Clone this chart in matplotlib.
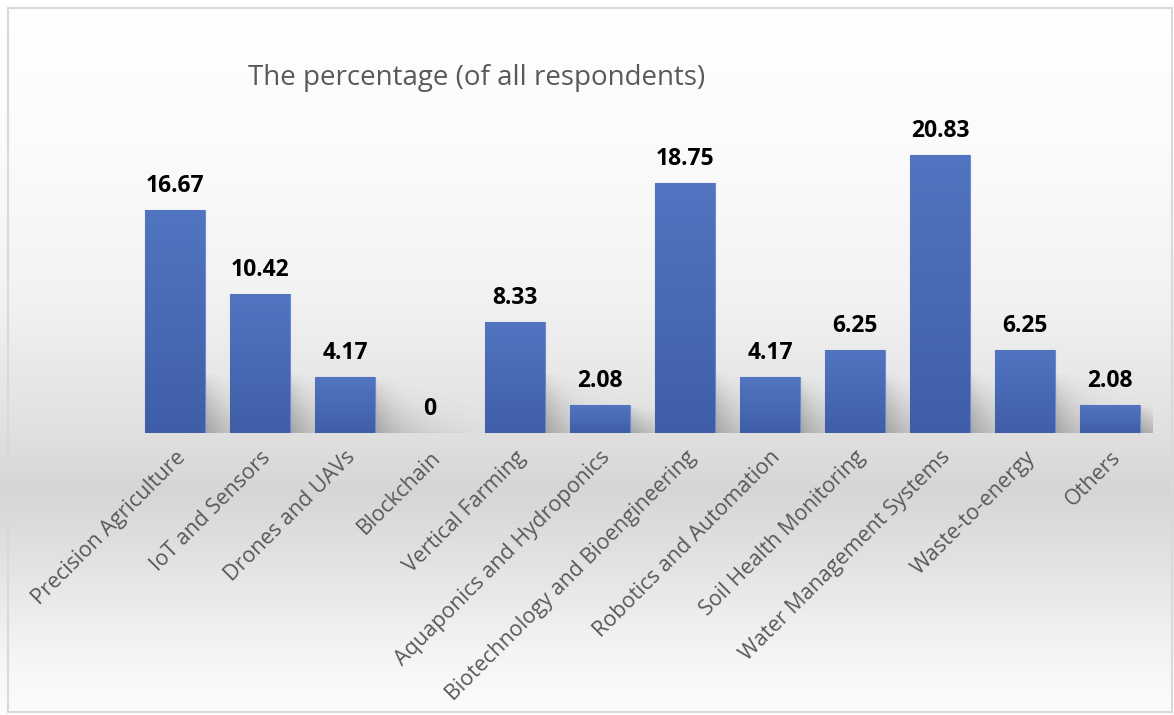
import numpy as np
import matplotlib.pyplot as plt
from matplotlib.patches import Rectangle

categories = ['Precision Agriculture', 'IoT and Sensors', 'Drones and UAVs', 'Blockchain',
              'Vertical Farming', 'Aquaponics and Hydroponics', 'Biotechnology and Bioengineering',
              'Robotics and Automation', 'Soil Health Monitoring', 'Water Management Systems',
              'Waste-to-energy', 'Others']
values = [16.67, 10.42, 4.17, 0, 8.33, 2.08, 18.75, 4.17, 6.25, 20.83, 6.25, 2.08]
title = 'The percentage (of all respondents)'

W, H = 1174, 715
fig = plt.figure(figsize=(W / 100, H / 100), dpi=100)

# background gradient (Excel style: white -> gray band near axis -> white)
bg = fig.add_axes([0, 0, 1, 1])
stops_y = [0, 150, 300, 433, 490, 570, 650, 715]
stops_g = [255, 251, 242, 224, 214, 228, 244, 253]
yy = np.arange(H)
g = np.interp(yy, stops_y, stops_g) / 255.0
img = np.repeat(g[:, None], 4, axis=1)
bg.imshow(np.dstack([img, img, img]), aspect='auto', extent=[0, W, H, 0])
bg.set_xlim(0, W)
bg.set_ylim(H, 0)
bg.axis('off')

# chart frame
bg.add_patch(Rectangle((8, 8), W - 10, H - 11, fill=False, edgecolor='#d9d9d9', linewidth=1.5))

# main axes: bar centres every 85 px, baseline at y=433
ax = fig.add_axes([132.5 / W, 282 / H, 1020 / W, 25 * 13.35 / H])
ax.set_xlim(-0.5, len(values) - 0.5)
ax.set_ylim(0, 25)
ax.patch.set_alpha(0)
for s in ax.spines.values():
    s.set_visible(False)
ax.set_yticks([])

x = np.arange(len(values))
bw = 0.7

# soft shadows behind bars
gx = np.linspace(-0.5, len(values) - 0.5, 1200)
gy = np.linspace(0, 25, 400)
GX, GY = np.meshgrid(gx, gy)
shade = np.zeros_like(GX)
for xi, v in zip(x, values):
    if v <= 0:
        continue
    hs = min(v, 4.5)
    dx = GX - (xi + bw / 2) + 0.04
    t = np.clip(1 - GY / hs, 0, 1)
    reach = 0.07 + 0.35 * t
    a = np.where(dx > 0, np.exp(-dx / reach) * t ** 0.6, 0)
    shade = np.maximum(shade, a)
rgba = np.zeros(GX.shape + (4,))
rgba[..., :3] = 0.4
rgba[..., 3] = 0.55 * shade
ax.imshow(rgba, extent=[gx[0], gx[-1], 0, 25], origin='lower', aspect='auto', zorder=1,
          interpolation='bilinear')

bars = ax.bar(x, values, width=bw, color='#4a6cb8', edgecolor='#6b8bd0', linewidth=0.8, zorder=2)

# vertical gradient inside each bar
grad = np.linspace(0, 1, 100)[:, None]
top_c = np.array([0x52, 0x75, 0xc1]) / 255
bot_c = np.array([0x3f, 0x5e, 0xa7]) / 255
bar_img = (bot_c[None, None, :] * (1 - grad[..., None]) + top_c[None, None, :] * grad[..., None])
for b in bars:
    if b.get_height() <= 0:
        continue
    im = ax.imshow(bar_img, extent=[b.get_x(), b.get_x() + b.get_width(), 0, b.get_height()],
                   origin='lower', aspect='auto', zorder=2.5)
    im.set_clip_path(b)

ax.set_xlim(-0.5, len(values) - 0.5)
ax.set_ylim(0, 25)

for xi, v in zip(x, values):
    ax.annotate(f'{v:g}' if v == 0 else f'{v:.2f}', (xi, v), xytext=(0, 13),
                textcoords='offset points', ha='center', va='baseline',
                fontsize=16.5, fontweight='bold', family='Open Sans', color='black', zorder=3)

ax.set_xticks(x)
ax.set_xticklabels(categories, rotation=45, ha='right', va='top', rotation_mode='anchor',
                   fontsize=15.5, family='Open Sans', color='#595959')
ax.tick_params(axis='x', length=0, pad=10)

fig.text(248 / W, 1 - 78 / H, title, ha='left', va='center', fontsize=20,
         family='Open Sans', color='#595959')

fig.savefig('out.png', dpi=100)
